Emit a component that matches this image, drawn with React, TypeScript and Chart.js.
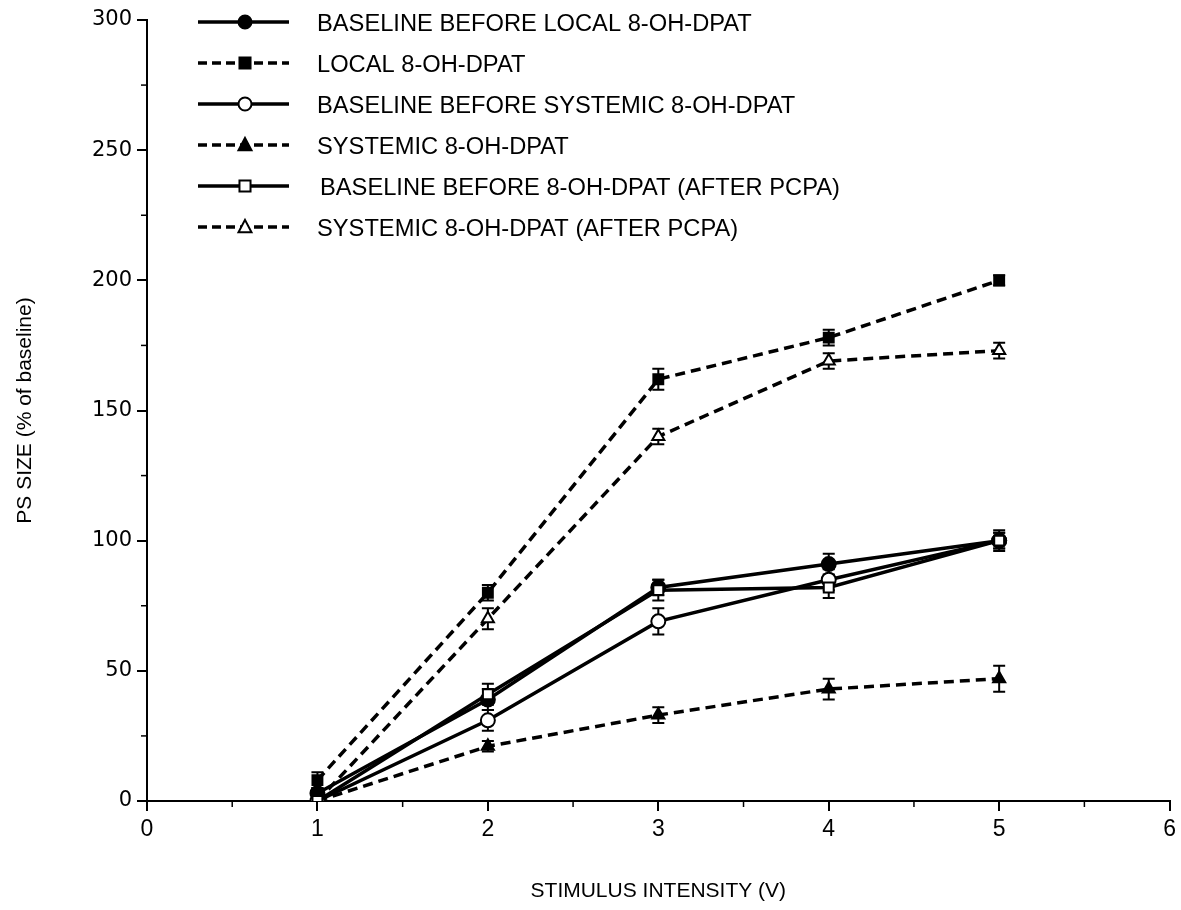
import React, { useEffect, useRef } from "react";
import { Chart, registerables } from "chart.js";

Chart.register(...registerables);

const xValues = [1, 2, 3, 4, 5];

const baselineLocal = [3, 39, 82, 91, 100];
const baselineLocalErr = [2, 4, 3, 4, 3];
const localDpat = [8, 80, 162, 178, 200];
const localDpatErr = [3, 3, 4, 3, 2];
const baselineSystemic = [0, 31, 69, 85, 100];
const baselineSystemicErr = [0, 4, 5, 4, 3];
const systemicDpat = [0, 21, 33, 43, 47];
const systemicDpatErr = [0, 2, 3, 4, 5];
const baselinePcpa = [0, 41, 81, 82, 100];
const baselinePcpaErr = [0, 4, 4, 4, 4];
const systemicPcpa = [0, 70, 140, 169, 173];
const systemicPcpaErr = [0, 4, 3, 3, 3];

const labels = [
  "BASELINE BEFORE LOCAL 8-OH-DPAT",
  "LOCAL 8-OH-DPAT",
  "BASELINE BEFORE SYSTEMIC 8-OH-DPAT",
  "SYSTEMIC 8-OH-DPAT",
  "BASELINE BEFORE 8-OH-DPAT (AFTER PCPA)",
  "SYSTEMIC 8-OH-DPAT (AFTER PCPA)",
];

const yTickValues = [0, 50, 100, 150, 200, 250, 300];
const xTickValues = [0, 1, 2, 3, 4, 5, 6];

const seriesDefs = [
  { label: labels[0], values: baselineLocal, err: baselineLocalErr, style: "circle", filled: true, dashed: false, order: 1 },
  { label: labels[1], values: localDpat, err: localDpatErr, style: "rect", filled: true, dashed: true, order: 2 },
  { label: labels[2], values: baselineSystemic, err: baselineSystemicErr, style: "circle", filled: false, dashed: false, order: 3 },
  { label: labels[3], values: systemicDpat, err: systemicDpatErr, style: "triangle", filled: true, dashed: true, order: 4 },
  { label: labels[4], values: baselinePcpa, err: baselinePcpaErr, style: "rect", filled: false, dashed: false, order: 0 },
  { label: labels[5], values: systemicPcpa, err: systemicPcpaErr, style: "triangle", filled: false, dashed: true, order: 5 },
];

const DASH = [10, 6];
const LEGEND_DASH = [9, 5];

function drawMarker(ctx: CanvasRenderingContext2D, style: string, filled: boolean, x: number, y: number, r: number) {
  ctx.save();
  ctx.setLineDash([]);
  ctx.lineWidth = 2;
  ctx.strokeStyle = "#000";
  ctx.fillStyle = filled ? "#000" : "#fff";
  ctx.beginPath();
  if (style === "circle") {
    ctx.arc(x, y, r, 0, Math.PI * 2);
  } else if (style === "rect") {
    ctx.rect(x - r * 0.85, y - r * 0.85, 1.7 * r, 1.7 * r);
  } else {
    ctx.moveTo(x, y - r * 1.1);
    ctx.lineTo(x + r, y + r * 0.8);
    ctx.lineTo(x - r, y + r * 0.8);
    ctx.closePath();
  }
  ctx.fill();
  ctx.stroke();
  ctx.restore();
}

const errorBarPlugin = {
  id: "errorBars",
  beforeDatasetsDraw(chart: any) {
    const ctx = chart.ctx;
    const xs = chart.scales.x;
    const ys = chart.scales.y;
    ctx.save();
    ctx.strokeStyle = "#000";
    ctx.lineWidth = 2;
    ctx.setLineDash([]);
    seriesDefs.forEach((s) => {
      s.values.forEach((v, i) => {
        const e = s.err[i];
        if (!e) return;
        const px = xs.getPixelForValue(xValues[i]);
        const top = ys.getPixelForValue(v + e);
        const bot = ys.getPixelForValue(v - e);
        ctx.beginPath();
        ctx.moveTo(px, top);
        ctx.lineTo(px, bot);
        ctx.moveTo(px - 6, top);
        ctx.lineTo(px + 6, top);
        ctx.moveTo(px - 6, bot);
        ctx.lineTo(px + 6, bot);
        ctx.stroke();
      });
    });
    ctx.restore();
  },
};

const minorTicksPlugin = {
  id: "minorTicks",
  afterDraw(chart: any) {
    const ctx = chart.ctx;
    const xs = chart.scales.x;
    const ys = chart.scales.y;
    const area = chart.chartArea;
    ctx.save();
    ctx.strokeStyle = "#000";
    ctx.lineWidth = 1.5;
    ctx.setLineDash([]);
    for (let v = 25; v < 300; v += 50) {
      const py = ys.getPixelForValue(v);
      ctx.beginPath();
      ctx.moveTo(area.left - 6, py);
      ctx.lineTo(area.left, py);
      ctx.stroke();
    }
    for (let v = 0.5; v < 6; v += 1) {
      const px = xs.getPixelForValue(v);
      ctx.beginPath();
      ctx.moveTo(px, area.bottom);
      ctx.lineTo(px, area.bottom + 6);
      ctx.stroke();
    }
    ctx.restore();
  },
};

const legendPlugin = {
  id: "customLegend",
  afterDraw(chart: any) {
    const ctx = chart.ctx;
    const x0 = 198;
    const x1 = 289;
    const mx = 245;
    const textX = 317;
    const y0 = 22;
    const dy = 41;
    ctx.save();
    seriesDefs.forEach((s, i) => {
      const y = y0 + i * dy;
      ctx.strokeStyle = "#000";
      ctx.lineWidth = 3.5;
      ctx.setLineDash(s.dashed ? LEGEND_DASH : []);
      ctx.beginPath();
      ctx.moveTo(x0, y);
      ctx.lineTo(x1, y);
      ctx.stroke();
      drawMarker(ctx, s.style, s.filled, mx, y, 6.5);
      ctx.setLineDash([]);
      ctx.fillStyle = "#000";
      ctx.font = "23.7px 'Liberation Sans', Arial, sans-serif";
      ctx.textBaseline = "middle";
      ctx.textAlign = "left";
      ctx.fillText(s.label, textX + (i === 4 ? 3 : 0), y + 2);
    });
    ctx.restore();
  },
};

export default function App() {
  const canvasRef = useRef<HTMLCanvasElement | null>(null);

  useEffect(() => {
    const canvas = canvasRef.current;
    if (!canvas) return;
    const datasets = seriesDefs.map((s) => ({
      label: s.label,
      data: s.values.map((v, i) => ({ x: xValues[i], y: v })),
      order: s.order,
      showLine: true,
      borderColor: "#000",
      borderWidth: 3.5,
      borderDash: s.dashed ? DASH : [],
      backgroundColor: s.filled ? "#000" : "#fff",
      pointStyle: s.style,
      pointRadius: 7,
      pointBorderWidth: 2,
      pointBorderColor: "#000",
      pointBackgroundColor: s.filled ? "#000" : "#fff",
      tension: 0,
    }));
    const chart = new Chart(canvas, {
      type: "scatter",
      data: { datasets },
      plugins: [errorBarPlugin, minorTicksPlugin, legendPlugin],
      options: {
        animation: false,
        responsive: false,
        maintainAspectRatio: false,
        layout: { padding: { top: 20, right: 10, bottom: 6, left: 13 } },
        plugins: {
          legend: { display: false },
          tooltip: { enabled: false },
        },
        scales: {
          x: {
            type: "linear",
            min: 0,
            max: 6,
            afterBuildTicks: (scale: any) => {
              scale.ticks = xTickValues.map((v) => ({ value: v }));
            },
            afterFit: (scale: any) => {
              scale.height = 103;
            },
            border: { display: true, color: "#000", width: 2 },
            grid: { drawOnChartArea: false, drawTicks: true, tickLength: 10, color: "#000", lineWidth: 2 },
            ticks: {
              color: "#000",
              font: { family: "'Liberation Sans', Arial", size: 23 },
              padding: 5,
              maxRotation: 0,
            },
            title: {
              display: true,
              text: "STIMULUS INTENSITY (V)",
              color: "#000",
              font: { family: "'Liberation Sans', Arial", size: 21 },
              padding: { top: 0, bottom: 0 },
            },
          },
          y: {
            type: "linear",
            min: 0,
            max: 300,
            afterBuildTicks: (scale: any) => {
              scale.ticks = yTickValues.map((v) => ({ value: v }));
            },
            afterFit: (scale: any) => {
              scale.width = 134;
            },
            border: { display: true, color: "#000", width: 2 },
            grid: { drawOnChartArea: false, drawTicks: true, tickLength: 10, color: "#000", lineWidth: 2 },
            ticks: {
              color: "#000",
              font: { family: "'DejaVu Sans', Arial", size: 21 },
              padding: 5,
            },
            title: {
              display: true,
              text: "PS SIZE (% of baseline)",
              color: "#000",
              font: { family: "'Liberation Sans', Arial", size: 21 },
              padding: { top: 0, bottom: 0 },
            },
          },
        },
      },
    } as any);
    return () => chart.destroy();
  }, []);

  return (
    <div style={{ position: "absolute", left: 0, top: 0, width: 1181, height: 910, background: "#fff" }}>
      <canvas ref={canvasRef} width={1181} height={910} style={{ display: "block" }} />
    </div>
  );
}
